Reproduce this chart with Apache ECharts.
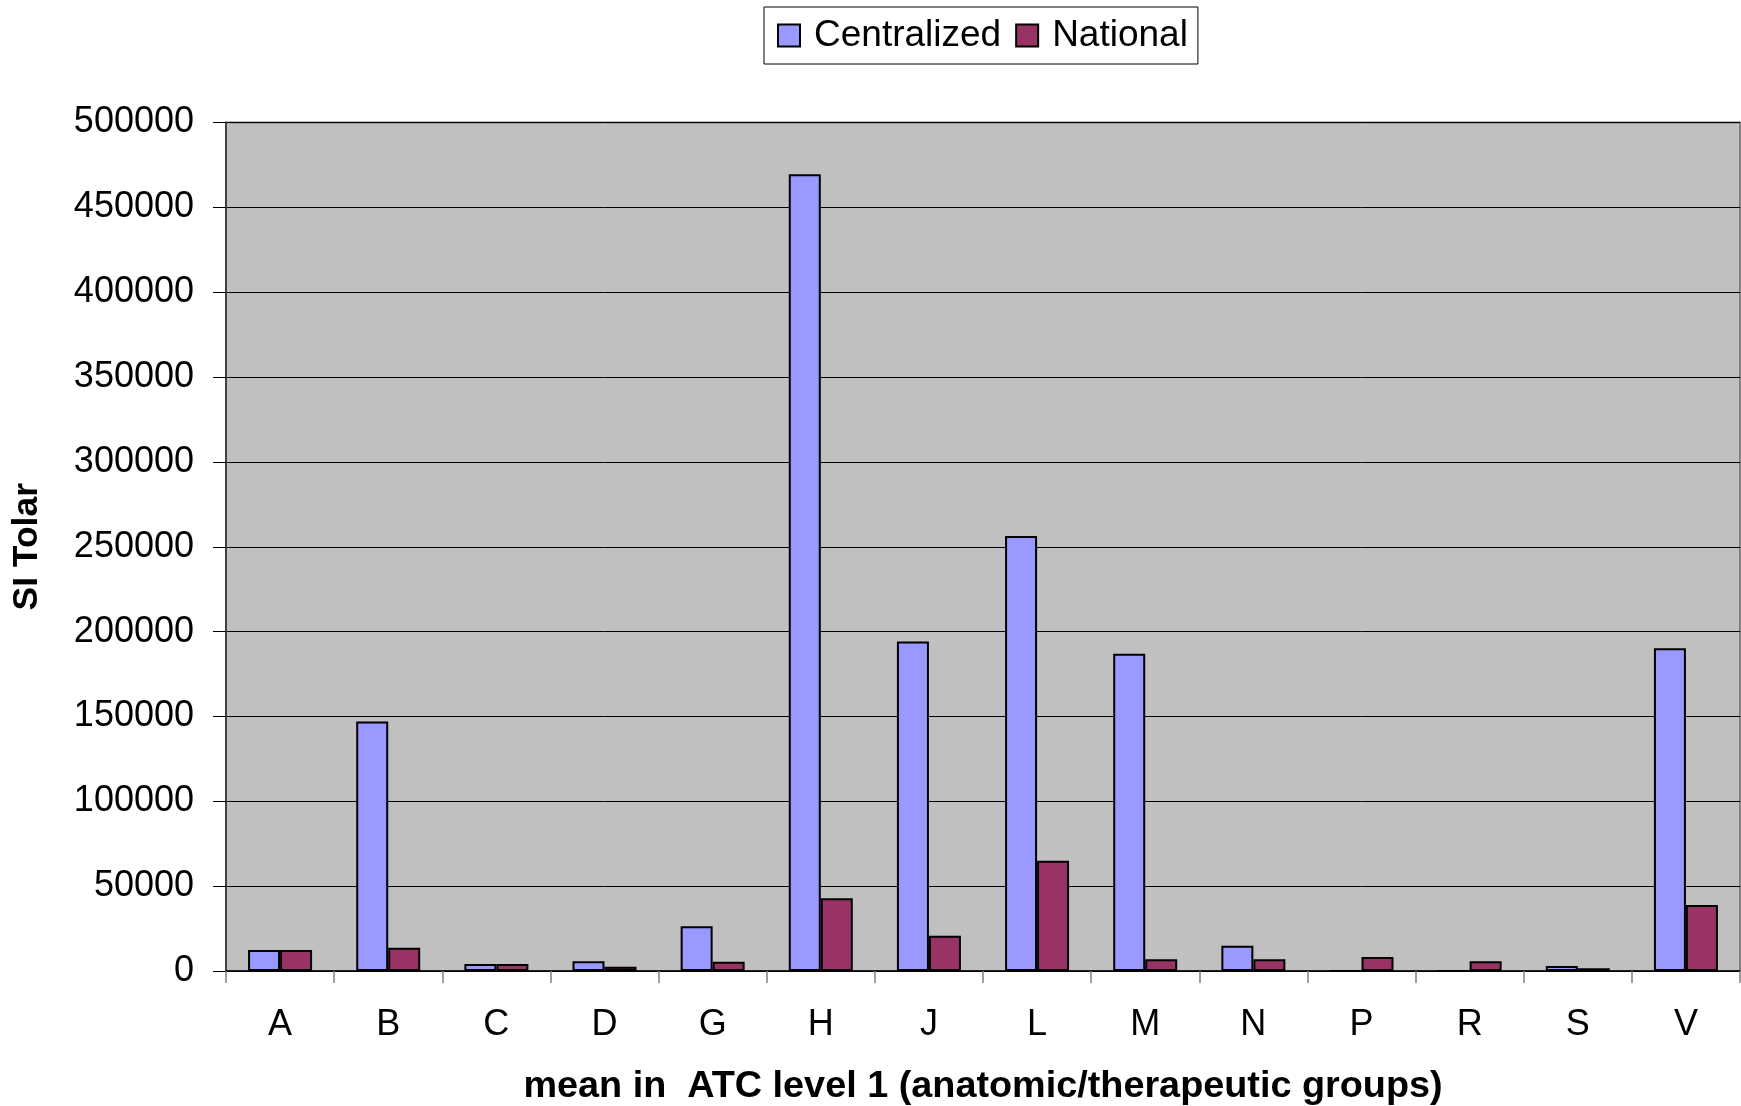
<!DOCTYPE html>
<html>
<head>
<meta charset="utf-8">
<script src="https://cdn.jsdelivr.net/npm/echarts@6/dist/echarts.min.js"></script>
<style>html,body{margin:0;padding:0;background:#fff}#c{width:1741px;height:1106px}</style>
</head>
<body>
<div id="c"></div>
<script>
const categories = ['A','B','C','D','G','H','J','L','M','N','P','R','S','V'];
const centralized = [12400,147000,4100,5700,26300,469500,194100,256300,186900,14900,0,0,2900,190200];
const national = [12400,13700,4100,2500,5500,42800,20800,65000,6900,6900,8300,5700,1600,38900];
const yTicks = {min:0, max:500000, interval:50000};
const FONT = '"Liberation Sans", Arial, sans-serif';

const chart = echarts.init(document.getElementById('c'), null, {renderer:'canvas'});
chart.setOption({
  animation:false,
  backgroundColor:'#ffffff',
  textStyle:{fontFamily:FONT},
  legend:{
    left:764, top:7,
    padding:[10,10,10,13],
    borderColor:'#000', borderWidth:1,
    itemWidth:22, itemHeight:22, itemGap:14,
    icon:'rect',
    itemStyle:{borderColor:'#000', borderWidth:2},
    textStyle:{fontSize:37, color:'#000', fontFamily:FONT, padding:[0,0,0,9]},
    data:['Centralized','National']
  },
  grid:{
    left:226, right:1, top:122.5, bottom:135,
    outerBoundsMode:'none',
    show:true, backgroundColor:'#C0C0C0', borderColor:'#808080', borderWidth:2
  },
  xAxis:{
    type:'category', data:categories,
    name:'mean in  ATC level 1 (anatomic/therapeutic groups)',
    nameLocation:'middle', nameGap:97,
    nameTextStyle:{fontSize:37.8, fontWeight:'bold', color:'#000', fontFamily:FONT},
    axisLine:{lineStyle:{color:'#000', width:1.5}},
    axisTick:{show:true, length:12, alignWithLabel:false, lineStyle:{color:'#808080', width:1.5}},
    axisLabel:{fontSize:36, color:'#000', margin:36, fontFamily:FONT},
    splitLine:{show:false}
  },
  yAxis:{
    type:'value', min:yTicks.min, max:yTicks.max, interval:yTicks.interval,
    name:'SI Tolar', nameLocation:'middle', nameGap:181,
    nameTextStyle:{fontSize:35.5, fontWeight:'bold', color:'#000', fontFamily:FONT},
    axisLine:{show:true, lineStyle:{color:'#404040', width:2}},
    axisTick:{show:true, length:13, lineStyle:{color:'#000', width:1}},
    axisLabel:{fontSize:36, color:'#000', margin:32, fontFamily:FONT, formatter:function(v){return String(v);}},
    splitLine:{show:true, lineStyle:{color:'#000', width:1}}
  },
  series:[
    {name:'Centralized', type:'bar', data:centralized, barWidth:32, barGap:'0%',
     itemStyle:{color:'#9999FF', borderColor:'#000', borderWidth:2}},
    {name:'National', type:'bar', data:national, barWidth:32, barGap:'0%',
     itemStyle:{color:'#993366', borderColor:'#000', borderWidth:2}}
  ]
});
</script>
</body>
</html>
